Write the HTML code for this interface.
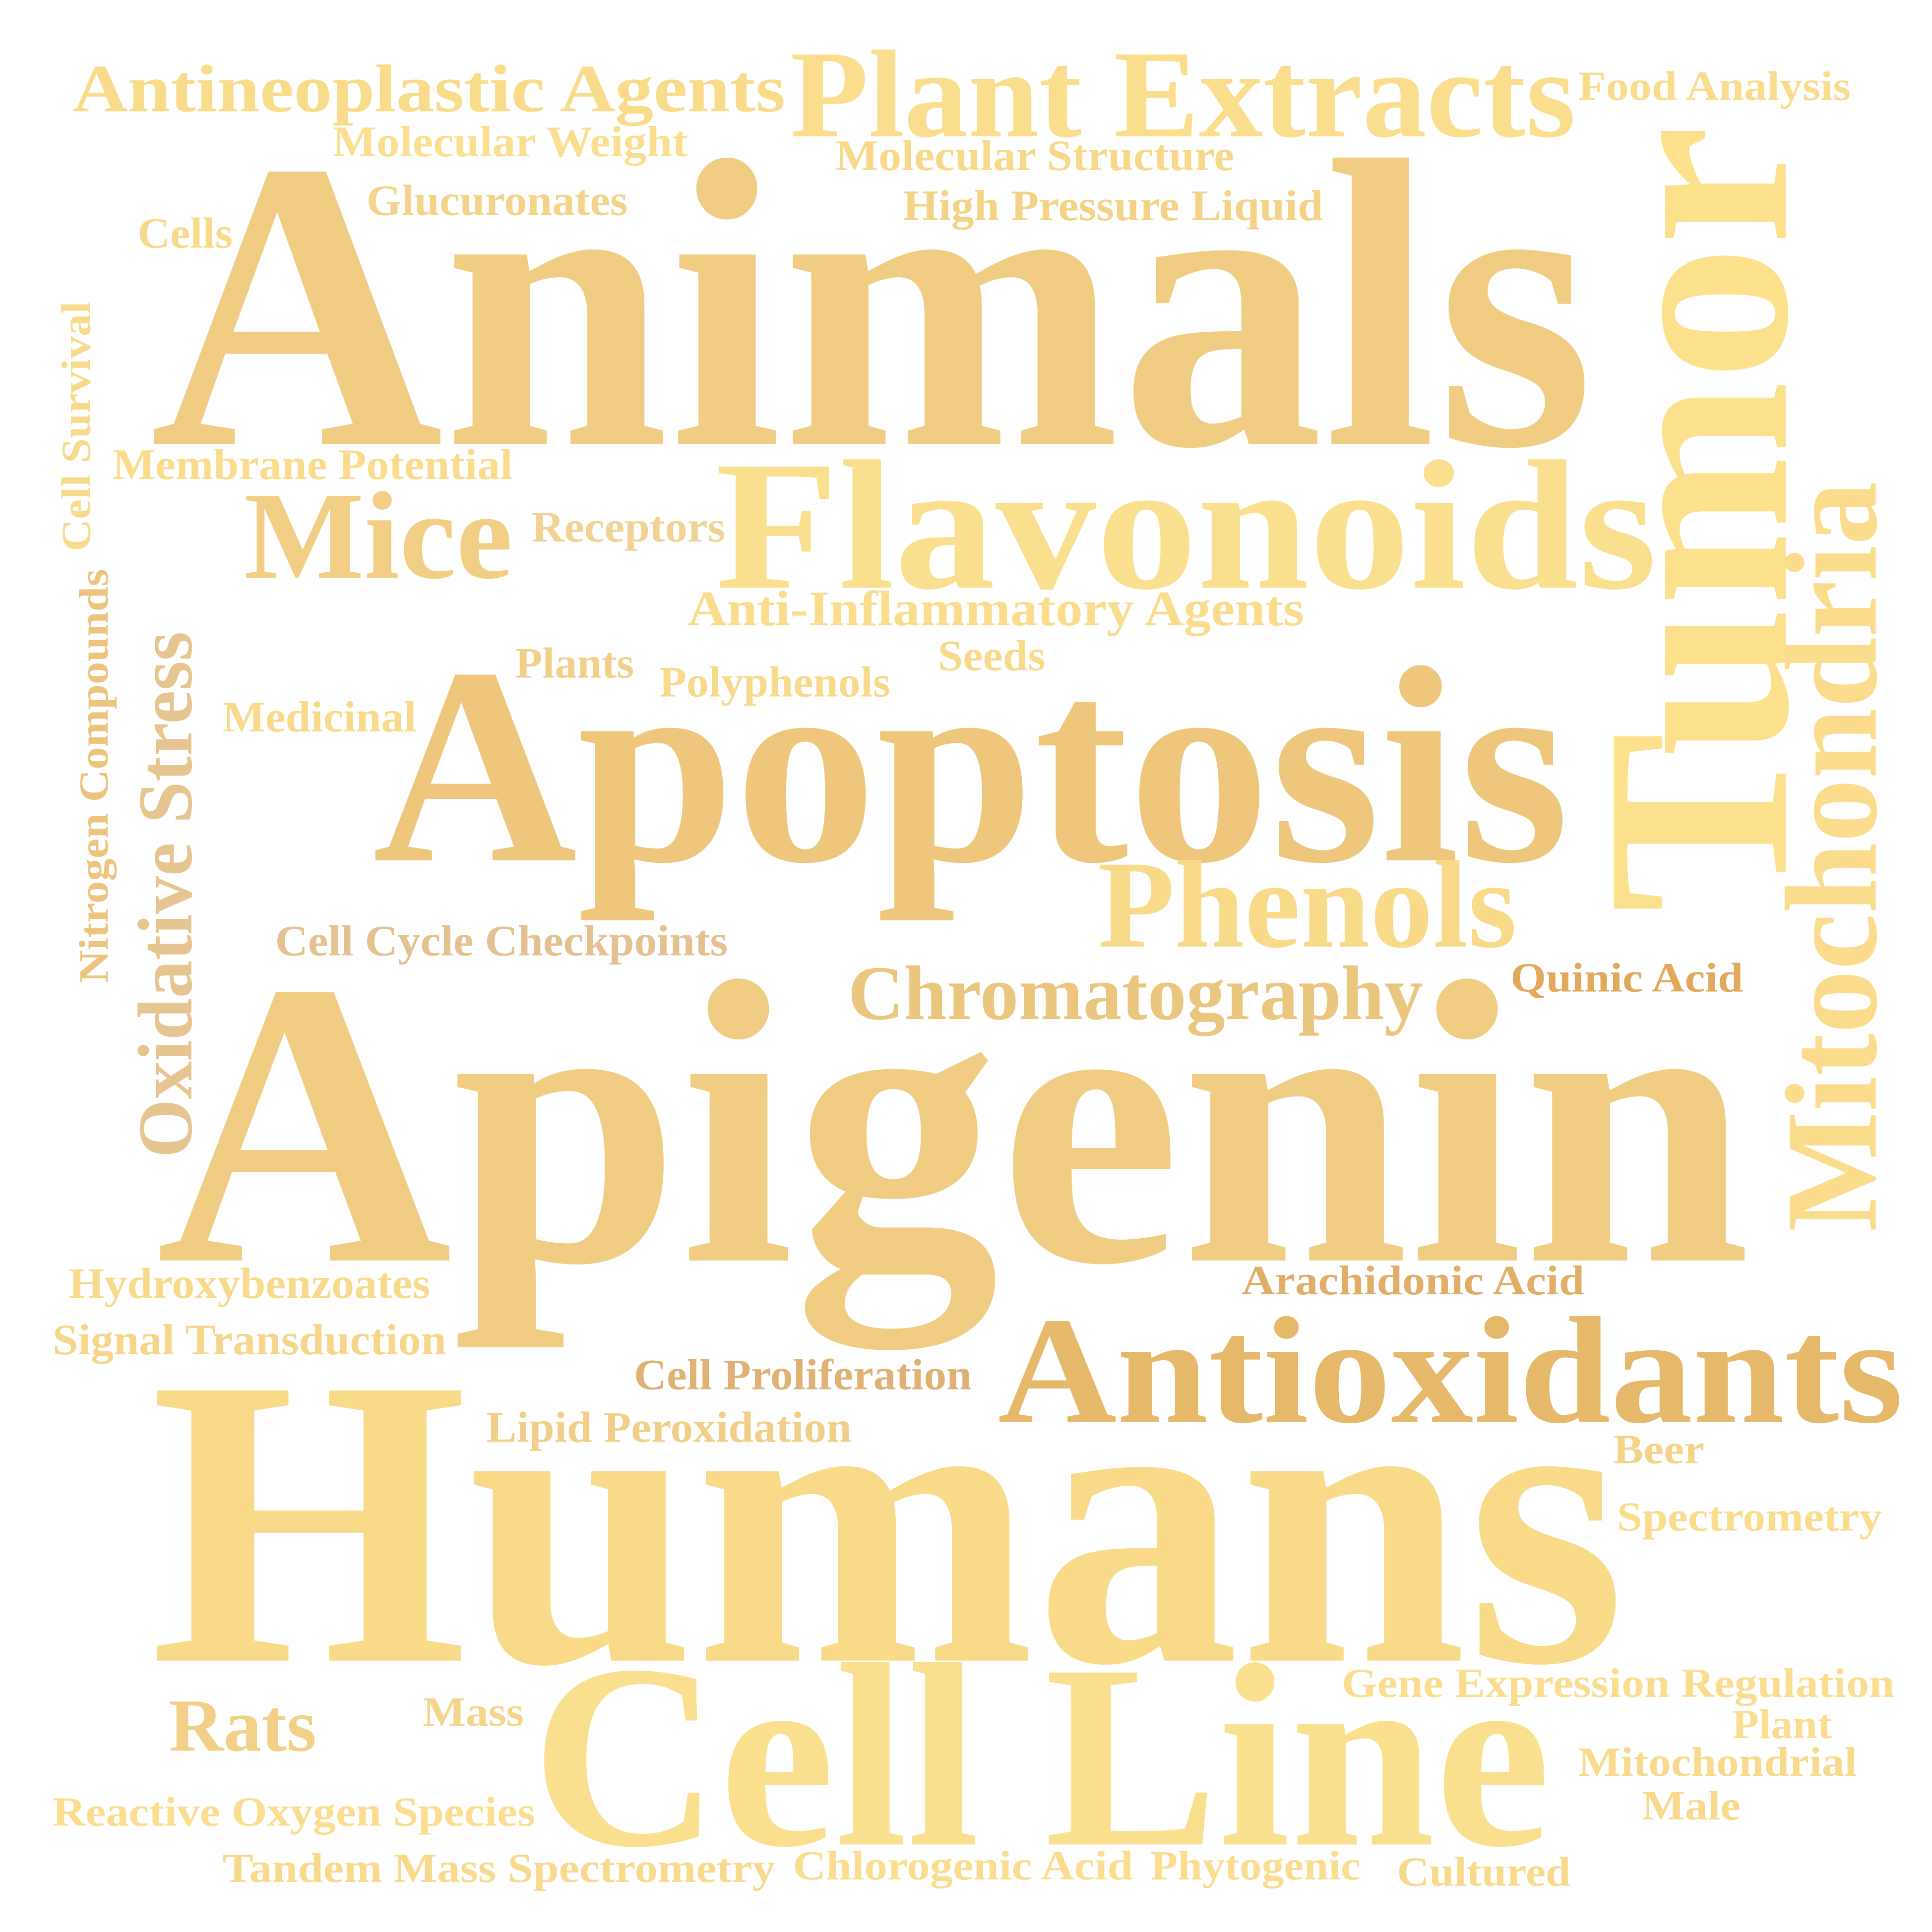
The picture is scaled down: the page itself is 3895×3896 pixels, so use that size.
<!DOCTYPE html>
<html><head><meta charset="utf-8"><style>
html,body{margin:0;padding:0;background:#fff;}
svg{display:block;}
text{font-family:"Liberation Serif",serif;font-weight:bold;}
</style></head><body>
<svg width="3895" height="3896" viewBox="0 0 1545 1545" preserveAspectRatio="none">
<rect width="1545" height="1545" fill="#fff"/>
<g lengthAdjust="spacingAndGlyphs">
<text x="58" y="89" font-size="54" fill="#f9dc8a" textLength="570" lengthAdjust="spacingAndGlyphs">Antineoplastic Agents</text>
<text x="632" y="109" font-size="100" fill="#fadd8d" textLength="628" lengthAdjust="spacingAndGlyphs">Plant Extracts</text>
<text x="1262" y="80" font-size="33" fill="#f9dc8c" textLength="218" lengthAdjust="spacingAndGlyphs">Food Analysis</text>
<text x="266" y="125" font-size="35" fill="#fadf90" textLength="284" lengthAdjust="spacingAndGlyphs">Molecular Weight</text>
<text x="668" y="136" font-size="35" fill="#f8d98a" textLength="319" lengthAdjust="spacingAndGlyphs">Molecular Structure</text>
<text x="293" y="172" font-size="35" fill="#f4d38a" textLength="209" lengthAdjust="spacingAndGlyphs">Glucuronates</text>
<text x="722" y="176" font-size="35" fill="#f5d386" textLength="336" lengthAdjust="spacingAndGlyphs">High Pressure Liquid</text>
<text x="110" y="198" font-size="35" fill="#f8da8c" textLength="76" lengthAdjust="spacingAndGlyphs">Cells</text>
<text x="120" y="355" font-size="330" fill="#f0cd82" textLength="1155" lengthAdjust="spacingAndGlyphs">Animals</text>
<text transform="translate(1428,730) rotate(-90)" x="0" y="0" font-size="210" fill="#fde08b" textLength="630" lengthAdjust="spacingAndGlyphs">Tumor</text>
<text transform="translate(1500,985) rotate(-90)" x="0" y="0" font-size="105" fill="#fbdc8c" textLength="600" lengthAdjust="spacingAndGlyphs">Mitochondria</text>
<text transform="translate(72,441) rotate(-90)" x="0" y="0" font-size="33" fill="#f8da8c" textLength="200" lengthAdjust="spacingAndGlyphs">Cell Survival</text>
<text transform="translate(86,786) rotate(-90)" x="0" y="0" font-size="33" fill="#ecc47e" textLength="331" lengthAdjust="spacingAndGlyphs">Nitrogen Compounds</text>
<text transform="translate(153,926) rotate(-90)" x="0" y="0" font-size="62" fill="#e6c590" textLength="421" lengthAdjust="spacingAndGlyphs">Oxidative Stress</text>
<text x="90" y="383" font-size="35" fill="#fadc8c" textLength="320" lengthAdjust="spacingAndGlyphs">Membrane Potential</text>
<text x="195" y="462" font-size="100" fill="#f2cf85" textLength="215" lengthAdjust="spacingAndGlyphs">Mice</text>
<text x="425" y="433" font-size="35" fill="#f2d396" textLength="155" lengthAdjust="spacingAndGlyphs">Receptors</text>
<text x="572" y="470" font-size="148" fill="#fadf8f" textLength="753" lengthAdjust="spacingAndGlyphs">Flavonoids</text>
<text x="550" y="500" font-size="40" fill="#f9dc8c" textLength="493" lengthAdjust="spacingAndGlyphs">Anti-Inflammatory Agents</text>
<text x="412" y="542" font-size="35" fill="#f2d08a" textLength="95" lengthAdjust="spacingAndGlyphs">Plants</text>
<text x="750" y="536" font-size="35" fill="#f8da8c" textLength="86" lengthAdjust="spacingAndGlyphs">Seeds</text>
<text x="527" y="557" font-size="35" fill="#f8da8c" textLength="185" lengthAdjust="spacingAndGlyphs">Polyphenols</text>
<text x="178" y="585" font-size="35" fill="#f8da8c" textLength="155" lengthAdjust="spacingAndGlyphs">Medicinal</text>
<text x="298" y="688" font-size="225" fill="#eec77c" textLength="957" lengthAdjust="spacingAndGlyphs">Apoptosis</text>
<text x="878" y="757" font-size="100" fill="#f8da88" textLength="335" lengthAdjust="spacingAndGlyphs">Phenols</text>
<text x="220" y="764" font-size="35" fill="#e4c190" textLength="362" lengthAdjust="spacingAndGlyphs">Cell Cycle Checkpoints</text>
<text x="678" y="815" font-size="62" fill="#ebc67e" textLength="460" lengthAdjust="spacingAndGlyphs">Chromatography</text>
<text x="1208" y="793" font-size="33" fill="#e2a95c" textLength="186" lengthAdjust="spacingAndGlyphs">Quinic Acid</text>
<text x="125" y="1008" font-size="325" fill="#f0cd82" textLength="1275" lengthAdjust="spacingAndGlyphs">Apigenin</text>
<text x="55" y="1038" font-size="35" fill="#f8da8c" textLength="289" lengthAdjust="spacingAndGlyphs">Hydroxybenzoates</text>
<text x="993" y="1035" font-size="33" fill="#e2ad66" textLength="274" lengthAdjust="spacingAndGlyphs">Arachidonic Acid</text>
<text x="42" y="1083" font-size="35" fill="#f5d68a" textLength="315" lengthAdjust="spacingAndGlyphs">Signal Transduction</text>
<text x="798" y="1137" font-size="122" fill="#e6b86a" textLength="724" lengthAdjust="spacingAndGlyphs">Antioxidants</text>
<text x="507" y="1111" font-size="35" fill="#dfb174" textLength="270" lengthAdjust="spacingAndGlyphs">Cell Proliferation</text>
<text x="389" y="1153" font-size="35" fill="#f2cf88" textLength="292" lengthAdjust="spacingAndGlyphs">Lipid Peroxidation</text>
<text x="120" y="1328" font-size="330" fill="#f8da88" textLength="1180" lengthAdjust="spacingAndGlyphs">Humans</text>
<text x="1290" y="1170" font-size="33" fill="#f5d38a" textLength="73" lengthAdjust="spacingAndGlyphs">Beer</text>
<text x="1293" y="1224" font-size="33" fill="#f9dc8c" textLength="212" lengthAdjust="spacingAndGlyphs">Spectrometry</text>
<text x="1073" y="1357" font-size="33" fill="#fadd8e" textLength="442" lengthAdjust="spacingAndGlyphs">Gene Expression Regulation</text>
<text x="1385" y="1390" font-size="33" fill="#fadd8e" textLength="80" lengthAdjust="spacingAndGlyphs">Plant</text>
<text x="1262" y="1420" font-size="33" fill="#f8da8c" textLength="223" lengthAdjust="spacingAndGlyphs">Mitochondrial</text>
<text x="1313" y="1455" font-size="33" fill="#f8da8c" textLength="79" lengthAdjust="spacingAndGlyphs">Male</text>
<text x="135" y="1400" font-size="60" fill="#f2d088" textLength="118" lengthAdjust="spacingAndGlyphs">Rats</text>
<text x="338" y="1380" font-size="33" fill="#f5d58c" textLength="81" lengthAdjust="spacingAndGlyphs">Mass</text>
<text x="425" y="1475" font-size="210" fill="#fadf8f" textLength="815" lengthAdjust="spacingAndGlyphs">Cell Line</text>
<text x="42" y="1460" font-size="33" fill="#fadd8e" textLength="386" lengthAdjust="spacingAndGlyphs">Reactive Oxygen Species</text>
<text x="178" y="1505" font-size="33" fill="#f8da8c" textLength="442" lengthAdjust="spacingAndGlyphs">Tandem Mass Spectrometry</text>
<text x="634" y="1503" font-size="33" fill="#fadd8e" textLength="272" lengthAdjust="spacingAndGlyphs">Chlorogenic Acid</text>
<text x="920" y="1503" font-size="33" fill="#fadd8e" textLength="168" lengthAdjust="spacingAndGlyphs">Phytogenic</text>
<text x="1117" y="1508" font-size="33" fill="#f8da8c" textLength="139" lengthAdjust="spacingAndGlyphs">Cultured</text>
</g>
</svg>
</body></html>
